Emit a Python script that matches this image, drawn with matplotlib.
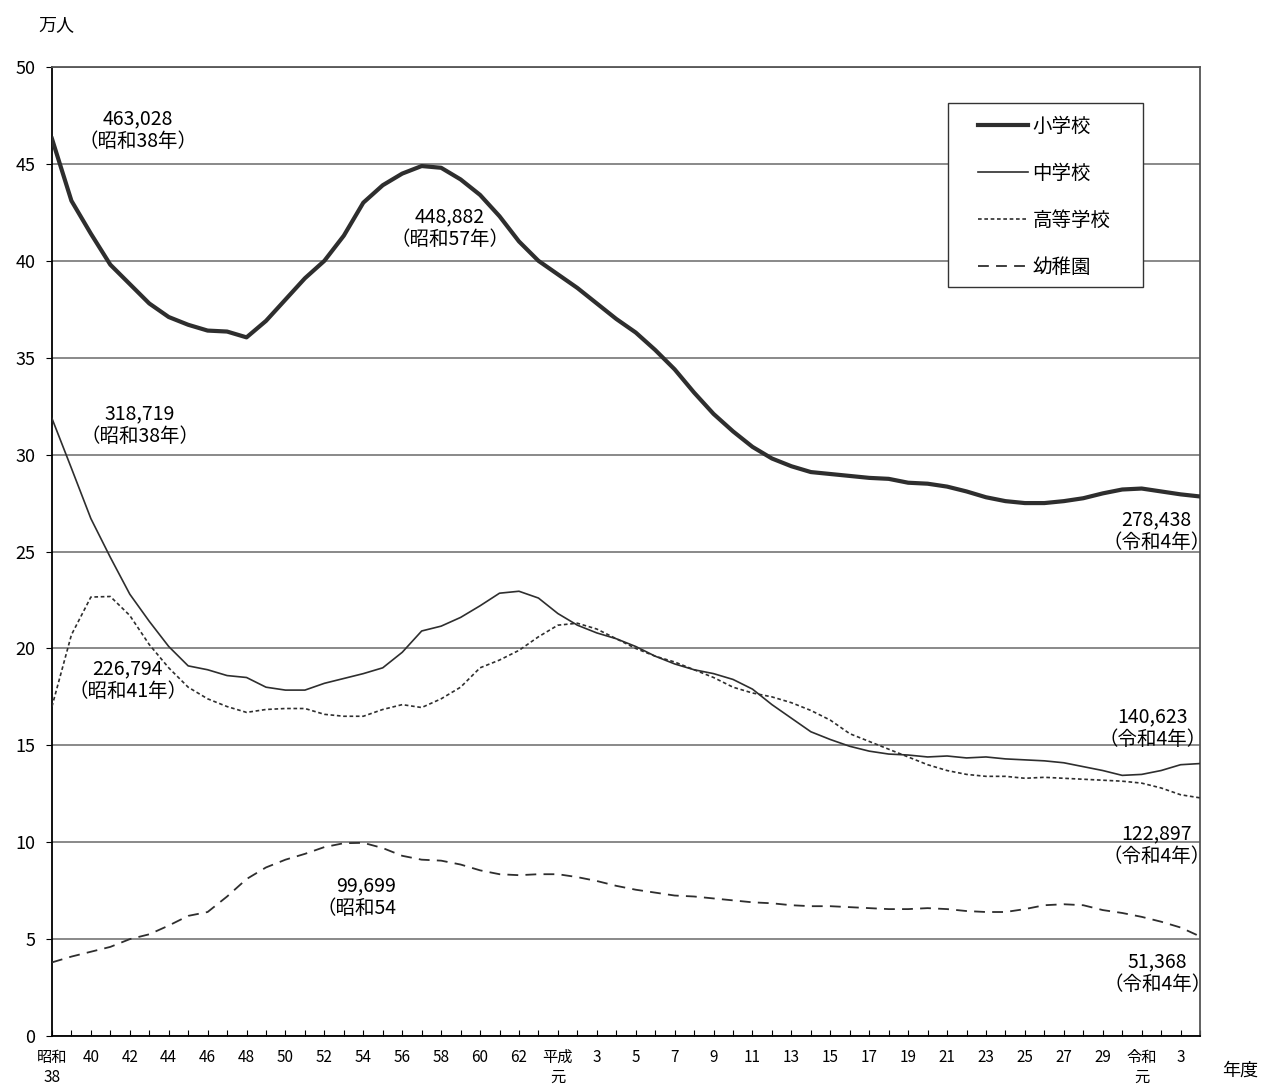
import matplotlib
matplotlib.use('Agg')
import matplotlib.pyplot as plt
from matplotlib.patches import Rectangle
import numpy as np

plt.rcParams['font.family'] = ['Noto Sans CJK JP', 'DejaVu Sans']

# 年度 (昭和38 = 1963 ... 令和4 = 2022)
years = np.arange(1963, 2023)

# 在学者数 (万人)
shogakko = [46.30, 43.1, 41.4, 39.8, 38.8, 37.8, 37.1, 36.7, 36.4, 36.35,
            36.05, 36.9, 38.0, 39.1, 40.0, 41.3, 43.0, 43.9, 44.5, 44.89,
            44.8, 44.2, 43.4, 42.3, 41.0, 40.0, 39.3, 38.6, 37.8, 37.0,
            36.3, 35.4, 34.4, 33.2, 32.1, 31.2, 30.4, 29.8, 29.4, 29.1,
            29.0, 28.9, 28.8, 28.75, 28.55, 28.5, 28.35, 28.1, 27.8, 27.6,
            27.5, 27.5, 27.6, 27.75, 28.0, 28.2, 28.25, 28.1, 27.95, 27.84]

chugakko = [31.87, 29.3, 26.7, 24.7, 22.8, 21.4, 20.1, 19.1, 18.9, 18.6,
            18.5, 18.0, 17.85, 17.85, 18.2, 18.45, 18.7, 19.0, 19.8, 20.9,
            21.15, 21.6, 22.2, 22.85, 22.95, 22.6, 21.8, 21.2, 20.8, 20.5,
            20.1, 19.6, 19.2, 18.9, 18.7, 18.4, 17.9, 17.1, 16.4, 15.7,
            15.3, 14.95, 14.7, 14.55, 14.5, 14.4, 14.45, 14.35, 14.4, 14.3,
            14.25, 14.2, 14.1, 13.9, 13.7, 13.45, 13.5, 13.7, 14.0, 14.06]

kotogakko = [17.0, 20.7, 22.65, 22.68, 21.7, 20.2, 19.0, 18.0, 17.4, 17.0,
             16.7, 16.85, 16.9, 16.9, 16.6, 16.5, 16.5, 16.85, 17.1, 16.95,
             17.4, 18.0, 19.0, 19.4, 19.9, 20.6, 21.2, 21.3, 21.0, 20.5,
             20.0, 19.6, 19.3, 18.9, 18.5, 18.0, 17.7, 17.5, 17.2, 16.8,
             16.3, 15.6, 15.2, 14.8, 14.4, 14.0, 13.7, 13.5, 13.4, 13.4,
             13.3, 13.35, 13.3, 13.25, 13.2, 13.15, 13.05, 12.8, 12.45, 12.29]

yochien = [3.8, 4.1, 4.35, 4.6, 5.0, 5.25, 5.7, 6.2, 6.4, 7.2,
           8.1, 8.7, 9.1, 9.4, 9.75, 9.95, 9.97, 9.7, 9.3, 9.1,
           9.05, 8.85, 8.55, 8.35, 8.3, 8.35, 8.35, 8.2, 8.0, 7.75,
           7.55, 7.4, 7.25, 7.2, 7.1, 7.0, 6.9, 6.85, 6.75, 6.7,
           6.7, 6.65, 6.6, 6.55, 6.55, 6.6, 6.55, 6.45, 6.4, 6.4,
           6.55, 6.75, 6.8, 6.75, 6.5, 6.35, 6.15, 5.9, 5.6, 5.14]

series_names = ['小学校', '中学校', '高等学校', '幼稚園']

tick_years = np.arange(1963, 2023, 2)
tick_labels = (['昭和\n38'] + [str(n) for n in range(40, 63, 2)]
               + ['平成\n元'] + [str(n) for n in range(3, 30, 2)]
               + ['令和\n元', '3'])

notes = [
    (1967.4, 46.75, '463,028\n（昭和38年）', 'center'),
    (1983.45, 41.7, '448,882\n（昭和57年）', 'center'),
    (1967.5, 31.5, '318,719\n（昭和38年）', 'center'),
    (1966.9, 18.37, '226,794\n（昭和41年）', 'center'),
    (1980.7, 7.17, '99,699\n（昭和54', 'right'),
    (2019.75, 26.06, '278,438\n（令和4年）', 'center'),
    (2019.55, 15.9, '140,623\n（令和4年）', 'center'),
    (2019.75, 9.86, '122,897\n（令和4年）', 'center'),
    (2019.8, 3.25, '51,368\n（令和4年）', 'center'),
]

col = '#2e2e2e'

fig = plt.figure(figsize=(12.64, 10.86), dpi=100)
ax = fig.add_axes([0.0411, 0.0460, 0.9083, 0.8923])

ax.plot(years, shogakko, color=col, lw=3.0, label=series_names[0], zorder=3)
ax.plot(years, chugakko, color=col, lw=1.2, label=series_names[1], zorder=3)
ax.plot(years, kotogakko, color=col, lw=1.2, linestyle=(0, (2.2, 1.6)),
        label=series_names[2], zorder=3)
ax.plot(years, yochien, color=col, lw=1.3, linestyle=(0, (6, 4)),
        label=series_names[3], zorder=3)

ax.set_xlim(1963, 2022)
ax.set_ylim(0, 50)
ax.set_yticks(np.arange(0, 51, 5))
ax.yaxis.grid(True, color='#808080', lw=1.3)
ax.set_axisbelow(True)

ax.set_xticks(tick_years)
ax.set_xticklabels(tick_labels, fontsize=11, linespacing=1.25)
ax.set_xticks(years, minor=True)
ax.tick_params(axis='x', which='both', direction='in', length=4, width=0.8, pad=9)
ax.tick_params(axis='y', direction='out', length=4, width=0.8, pad=8, labelsize=13)

for side in ['left', 'bottom']:
    ax.spines[side].set_color('black')
    ax.spines[side].set_linewidth(1.3)
for side in ['top', 'right']:
    ax.spines[side].set_color('#555555')
    ax.spines[side].set_linewidth(1.3)

for x, y, txt, align in notes:
    ax.text(x, y, txt, ha=align, va='center', multialignment=align,
            fontsize=14, linespacing=1.1, zorder=4)

# legend box
ax.add_patch(Rectangle((0.7805, 0.7730), 0.1699, 0.1898, transform=ax.transAxes,
                       facecolor='white', edgecolor='#333333', lw=1.0, zorder=4))
ax.legend(loc='upper left', bbox_to_anchor=(0.8066, 0.9500), frameon=False,
          fontsize=14, handlelength=2.55, handletextpad=0.25, labelspacing=1.35,
          borderpad=0, borderaxespad=0)

fig.text(0.030, 0.977, '万人', fontsize=13, va='center', ha='left')
fig.text(0.967, 0.014, '年度', fontsize=13, va='center', ha='left')

fig.savefig('out.png', dpi=100)
